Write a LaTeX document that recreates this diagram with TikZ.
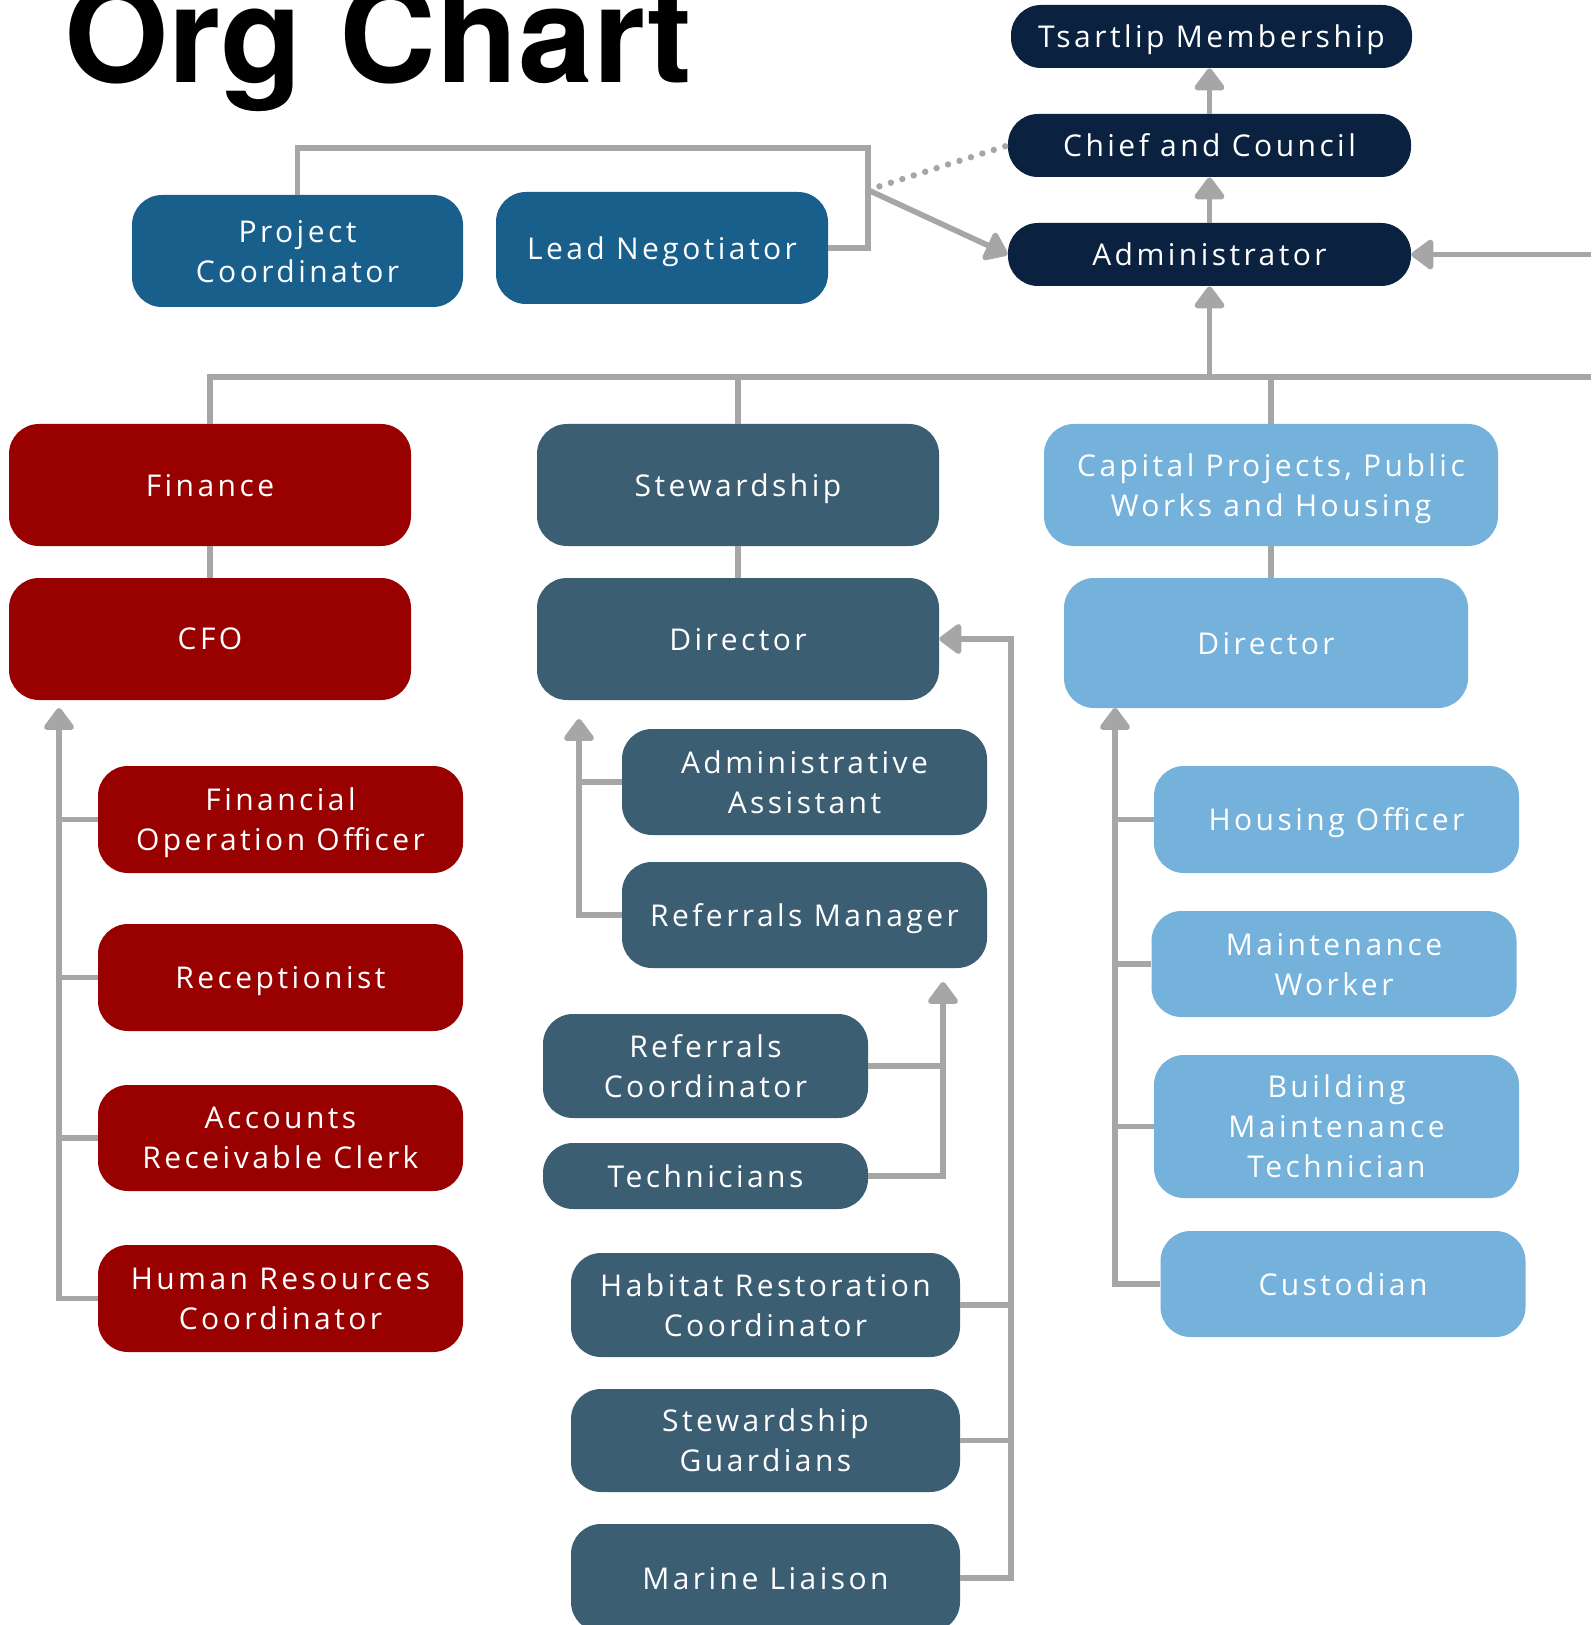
\documentclass[tikz,border=0pt]{standalone}
\usepackage{fontspec}
\usepackage{xcolor}
\usepackage{tikz}
\usetikzlibrary{arrows.meta}
\newfontfamily\boxfont{Open Sans}[LetterSpace=11.5]
\newfontfamily\titlefont{TeX Gyre Heros}
\definecolor{navy}{RGB}{10,34,64}
\definecolor{steel}{RGB}{24,95,140}
\definecolor{crimson}{RGB}{153,0,0}
\definecolor{slate}{RGB}{60,94,115}
\definecolor{sky}{RGB}{116,177,219}
\definecolor{wire}{RGB}{166,166,166}
\tikzset{every picture/.style={x=0.5pt,y=-0.5pt},
    box/.style={rounded corners=15pt, inner sep=0pt, align=center, text=white, text depth=0pt,
        font=\boxfont\fontsize{15}{20}\selectfont},
    sz/.style 2 args={minimum width=#1*0.5pt, minimum height=#2*0.5pt},
    navybox/.style={box, fill=navy},
    steelbox/.style={box, fill=steel},
    redbox/.style={box, fill=crimson},
    slatebox/.style={box, fill=slate},
    skybox/.style={box, fill=sky},
    link/.style={draw=wire, line width=2.8pt},
    arr/.style={link, -{Triangle[width=17pt, length=12pt, round]}},
    dots/.style={draw=wire, line width=3.2pt, line cap=round, dash pattern=on 0pt off 6pt}}

\begin{document}
\begin{tikzpicture}

    \path[use as bounding box, fill=white] (0,0) rectangle (1591,1625);

    \node[anchor=base west, inner sep=0pt, font=\titlefont\bfseries\fontsize{67}{67}\selectfont](ttl) at (64,83){Org Chart};

    \node[navybox, sz={401}{63}](tm) at (1211.5,36.5){Tsartlip Membership};
    \node[navybox, sz={403}{63}](cc) at (1209.5,145.5){Chief and Council};
    \node[navybox, sz={403}{63}](ad) at (1209.5,254.5){Administrator};
    \node[steelbox, sz={331}{112}](pc) at (297.5,251){Project\\Coordinator};
    \node[steelbox, sz={332}{112}](ln) at (662,248){Lead Negotiator};

    \node[redbox, sz={402}{122}](fin) at (210,485){Finance};
    \node[redbox, sz={402}{122}](cfo) at (210,639){CFO};
    \node[slatebox, sz={402}{122}](stw) at (738,485){Stewardship};
    \node[slatebox, sz={402}{122}](sdir) at (738,639){Director};
    \node[skybox, sz={454}{122}](cap) at (1271,485){Capital Projects, Public\\Works and Housing};
    \node[skybox, sz={404}{130}](cdir) at (1266,643){Director};

    \node[redbox, sz={365}{107}](foo) at (280.5,819.5){Financial\\Operation Officer};
    \node[redbox, sz={365}{107}](rec) at (280.5,977.5){Receptionist};
    \node[redbox, sz={365}{106}](arc) at (280.5,1138){Accounts\\Receivable Clerk};
    \node[redbox, sz={365}{107}](hr) at (280.5,1298.5){Human Resources\\Coordinator};

    \node[slatebox, sz={365}{106}](aa) at (804.5,782){Administrative\\Assistant};
    \node[slatebox, sz={365}{106}](rm) at (804.5,915){Referrals Manager};
    \node[slatebox, sz={325}{104}](rc) at (705.5,1066){Referrals\\Coordinator};
    \node[slatebox, sz={325}{66}](tec) at (705.5,1176){Technicians};
    \node[slatebox, sz={389}{104}](hab) at (765.5,1305){Habitat Restoration\\Coordinator};
    \node[slatebox, sz={389}{103}](sg) at (765.5,1440.5){Stewardship\\Guardians};
    \node[slatebox, sz={389}{108}](ml) at (765.5,1578){Marine Liaison};

    \node[skybox, sz={365}{107}](ho) at (1336.5,819.5){Housing Officer};
    \node[skybox, sz={365}{106}](mw) at (1334,964){Maintenance\\Worker};
    \node[skybox, sz={365}{143}](bmt) at (1336.5,1126.5){Building\\Maintenance\\Technician};
    \node[skybox, sz={365}{106}](cus) at (1343,1284){Custodian};

    \coordinate (jn) at (868,148);
    \coordinate (fork) at (868,190);
    \coordinate (busR) at (1591,377);
    \coordinate (sideR) at (1591,254.5);
    \coordinate (finTip) at (59,708);
    \coordinate (stwTip) at (579,719);
    \coordinate (refTip) at (943,982);
    \coordinate (rail) at (1011,639);
    \coordinate (capTip) at (1115,708);

    \draw[arr](cc.north) -- (cc.north |- tm.south);
    \draw[arr](ad.north) -- (ad.north |- cc.south);
    \draw[link](pc.north) |- (jn) |- (ln.east);
    \draw[arr](fork) -- (ad.west);
    \draw[dots](fork) -- (cc.west);
    \draw[arr](sideR) -- (ad.east);

    \draw[link](fin.north) |- (busR);
    \draw[link](stw.north) -- (stw.north |- busR);
    \draw[link](cap.north) -- (cap.north |- busR);
    \draw[arr](ad.south |- busR) -- (ad.south);
    \draw[link](fin.south) -- (cfo.north);
    \draw[link](stw.south) -- (sdir.north);
    \draw[link](cap.south) -- (cap.south |- cdir.north);

    \draw[arr](hr.west) -| (finTip);
    \foreach \n in {foo, rec, arc}
        \draw[link](\n.west) -- (\n.west -| finTip);

    \draw[arr](rm.west) -| (stwTip);
    \draw[link](aa.west) -- (aa.west -| stwTip);
    \draw[arr](tec.east) -| (refTip);
    \draw[link](rc.east) -- (rc.east -| refTip);
    \draw[arr](ml.east) -| (rail) -- (sdir.east);
    \foreach \n in {hab, sg}
        \draw[link](\n.east) -- (\n.east -| rail);

    \draw[arr](cus.west) -| (capTip);
    \foreach \n in {ho, mw, bmt}
        \draw[link](\n.west) -- (\n.west -| capTip);
  \end{tikzpicture}
\end{document}
